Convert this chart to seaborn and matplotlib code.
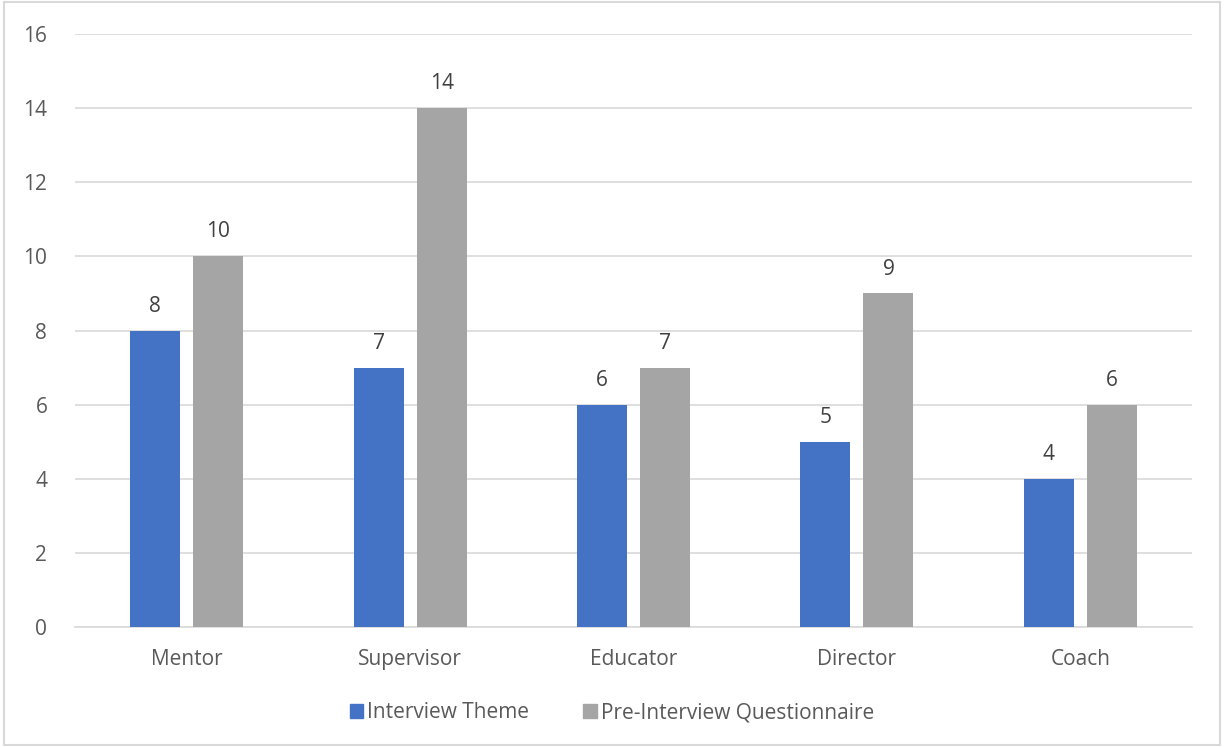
import matplotlib
matplotlib.use("Agg")
import matplotlib.pyplot as plt
import seaborn as sns
import pandas as pd
from matplotlib.patches import Rectangle

categories = ["Mentor", "Supervisor", "Educator", "Director", "Coach"]
interview_theme = [8, 7, 6, 5, 4]
pre_interview = [10, 14, 7, 9, 6]
series_names = ["Interview Theme", "Pre-Interview Questionnaire"]
yticks = [0, 2, 4, 6, 8, 10, 12, 14, 16]

df = pd.DataFrame({
    "Category": categories * 2,
    "Series": [series_names[0]] * len(categories) + [series_names[1]] * len(categories),
    "Value": interview_theme + pre_interview,
})

sns.set_style("white")
plt.rcParams["font.family"] = ["Open Sans", "DejaVu Sans"]
text_color = "#595959"
fs = 15

fig = plt.figure(figsize=(12.24, 7.47), dpi=100)
ax = fig.add_axes([0.0613, 0.1606, 0.9126, 0.7939])

palette = {series_names[0]: "#4472C4", series_names[1]: "#A5A5A5"}
sns.barplot(data=df, x="Category", y="Value", hue="Series", order=categories,
            hue_order=series_names, palette=palette, width=0.564, gap=0.206,
            saturation=1, ax=ax, legend=False, zorder=3, linewidth=0)

for cont in ax.containers:
    ax.bar_label(cont, padding=10, fontsize=fs, color="#404040")

ax.set_ylim(0, 16)
ax.set_yticks(yticks)
ax.set_xlim(-0.5, len(categories) - 0.5)
ax.grid(axis="y", color="#D9D9D9", linewidth=1.2, zorder=0)
for s in ["top", "right", "left"]:
    ax.spines[s].set_visible(False)
ax.spines["bottom"].set_color("#D9D9D9")
ax.spines["bottom"].set_linewidth(1.2)
ax.tick_params(axis="both", length=0, labelsize=fs, colors=text_color)
ax.tick_params(axis="x", pad=16)
ax.tick_params(axis="y", pad=20)
ax.set_xlabel("")
ax.set_ylabel("")

handles = [Rectangle((0, 0), 1, 1, color=palette[n]) for n in series_names]
fig.legend(handles, series_names, loc="center", bbox_to_anchor=(0.5, 0.046),
           ncol=2, frameon=False, fontsize=fs, handlelength=0.65, handleheight=0.65,
           handletextpad=0.2, columnspacing=2.6, labelcolor=text_color)

fig.patches.append(Rectangle((0.003, 0.003), 0.994, 0.994, transform=fig.transFigure,
                             fill=False, edgecolor="#D9D9D9", linewidth=1.5))

fig.savefig("out.png", dpi=100)
